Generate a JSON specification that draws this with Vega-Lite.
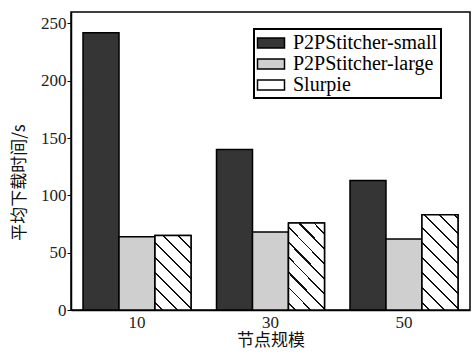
{
  "$schema": "https://vega.github.io/schema/vega-lite/v6.json",
  "width": 399,
  "height": 298,
  "autosize": "none",
  "padding": {"left": 71, "top": 12, "right": 2, "bottom": 44},
  "background": "white",
  "config": {"view": {"stroke": "#000", "strokeWidth": 1.5}, "font": "Liberation Serif, Times New Roman, DejaVu Serif, serif"},
  "data": {"values": [
    {"nodes": "10", "series": "P2PStitcher-small", "time": 242},
    {"nodes": "10", "series": "P2PStitcher-large", "time": 64},
    {"nodes": "10", "series": "Slurpie", "time": 65},
    {"nodes": "30", "series": "P2PStitcher-small", "time": 140},
    {"nodes": "30", "series": "P2PStitcher-large", "time": 68},
    {"nodes": "30", "series": "Slurpie", "time": 76},
    {"nodes": "50", "series": "P2PStitcher-small", "time": 113},
    {"nodes": "50", "series": "P2PStitcher-large", "time": 62},
    {"nodes": "50", "series": "Slurpie", "time": 83}
  ]},
  "encoding": {
    "x": {"field": "nodes", "type": "ordinal", "sort": ["10", "30", "50"],
      "scale": {"paddingInner": 0.191, "paddingOuter": 0.09},
      "axis": {"title": "节点规模", "titleFont": "Noto Sans CJK SC", "titleFontSize": 17, "titleFontWeight": "normal", "titleColor": "#111", "titlePadding": 2,
        "labelAngle": 0, "labelFont": "Liberation Serif, Times New Roman, DejaVu Serif, serif", "labelFontSize": 17, "labelColor": "#222", "labelPadding": 4,
        "ticks": false, "domainColor": "#000", "domainWidth": 1.5}},
    "xOffset": {"field": "series", "type": "nominal", "scale": {"domain": ["P2PStitcher-small", "P2PStitcher-large", "Slurpie"], "paddingInner": 0, "paddingOuter": 0}},
    "y": {"field": "time", "type": "quantitative", "scale": {"domain": [0, 260], "nice": false},
      "axis": {"title": "平均下载时间/s", "titleFont": "Noto Sans CJK SC", "titleFontSize": 17, "titleFontWeight": "normal", "titleColor": "#111",
        "titleX": -52, "titleY": 170, "titleBaseline": "middle", "titleAngle": -90,
        "values": [0, 50, 100, 150, 200, 250], "grid": false, "labelFont": "Liberation Serif, Times New Roman, DejaVu Serif, serif", "labelFontSize": 17, "labelColor": "#222", "labelPadding": 1,
        "tickSize": 4, "tickColor": "#000", "domainColor": "#000", "domainWidth": 1.5}}
  },
  "layer": [
    {
      "mark": {"type": "bar", "stroke": "#000", "strokeWidth": 1.5},
      "encoding": {
        "fill": {"field": "series", "type": "nominal",
          "scale": {"domain": ["P2PStitcher-small", "P2PStitcher-large", "Slurpie"],
            "range": ["#353535", "#cfcfcf", "#ffffff"]},
          "legend": {"orient": "none", "legendX": 183, "legendY": 17, "title": null,
            "strokeColor": "#000", "fillColor": "white", "padding": 3,
            "symbolType": "M-1.35,-0.5H1.35V0.5H-1.35Z", "symbolSize": 400, "symbolOffset": 3, "symbolStrokeColor": "#000", "symbolStrokeWidth": 1.5,
            "labelFont": "Liberation Serif, Times New Roman, DejaVu Serif, serif", "labelFontSize": 20, "labelColor": "#000", "labelOffset": 11, "rowPadding": 0,
            "encode": {
              "legend": {"update": {"strokeWidth": {"value": 2}}},
              "symbols": {"update": {
                "stroke": {"value": "#000"},
                "strokeWidth": {"value": 1.5}}}}}
        }
      }
    },
    {
      "transform": [{"filter": "datum.series === 'Slurpie' && datum.nodes === '10'"}],
      "mark": {"type": "bar", "stroke": "#000", "strokeWidth": 1.5,
        "fill": {"gradient": "linear", "x1": 0, "y1": 1, "x2": 0.581, "y2": -0.2025, "stops": [
          {"offset": 0, "color": "white"},
          {"offset": 0.0588, "color": "white"}, {"offset": 0.0588, "color": "#111"}, {"offset": 0.0769, "color": "#111"}, {"offset": 0.0769, "color": "white"},
          {"offset": 0.1946, "color": "white"}, {"offset": 0.1946, "color": "#111"}, {"offset": 0.2127, "color": "#111"}, {"offset": 0.2127, "color": "white"},
          {"offset": 0.3303, "color": "white"}, {"offset": 0.3303, "color": "#111"}, {"offset": 0.3484, "color": "#111"}, {"offset": 0.3484, "color": "white"},
          {"offset": 0.4661, "color": "white"}, {"offset": 0.4661, "color": "#111"}, {"offset": 0.4842, "color": "#111"}, {"offset": 0.4842, "color": "white"},
          {"offset": 0.6018, "color": "white"}, {"offset": 0.6018, "color": "#111"}, {"offset": 0.6199, "color": "#111"}, {"offset": 0.6199, "color": "white"},
          {"offset": 0.7376, "color": "white"}, {"offset": 0.7376, "color": "#111"}, {"offset": 0.7557, "color": "#111"}, {"offset": 0.7557, "color": "white"},
          {"offset": 0.8733, "color": "white"}, {"offset": 0.8733, "color": "#111"}, {"offset": 0.8914, "color": "#111"}, {"offset": 0.8914, "color": "white"},
          {"offset": 1, "color": "white"}
        ]}}
    },
    {
      "transform": [{"filter": "datum.series === 'Slurpie' && datum.nodes === '30'"}],
      "mark": {"type": "bar", "stroke": "#000", "strokeWidth": 1.5,
        "fill": {"gradient": "linear", "x1": 0, "y1": 1, "x2": 0.499, "y2": -0.207, "stops": [
          {"offset": 0, "color": "white"},
          {"offset": 0.0528, "color": "white"}, {"offset": 0.0528, "color": "#111"}, {"offset": 0.069, "color": "#111"}, {"offset": 0.069, "color": "white"},
          {"offset": 0.1747, "color": "white"}, {"offset": 0.1747, "color": "#111"}, {"offset": 0.1909, "color": "#111"}, {"offset": 0.1909, "color": "white"},
          {"offset": 0.2965, "color": "white"}, {"offset": 0.2965, "color": "#111"}, {"offset": 0.3128, "color": "#111"}, {"offset": 0.3128, "color": "white"},
          {"offset": 0.4184, "color": "white"}, {"offset": 0.4184, "color": "#111"}, {"offset": 0.4346, "color": "#111"}, {"offset": 0.4346, "color": "white"},
          {"offset": 0.5402, "color": "white"}, {"offset": 0.5402, "color": "#111"}, {"offset": 0.5565, "color": "#111"}, {"offset": 0.5565, "color": "white"},
          {"offset": 0.6621, "color": "white"}, {"offset": 0.6621, "color": "#111"}, {"offset": 0.6783, "color": "#111"}, {"offset": 0.6783, "color": "white"},
          {"offset": 0.7839, "color": "white"}, {"offset": 0.7839, "color": "#111"}, {"offset": 0.8002, "color": "#111"}, {"offset": 0.8002, "color": "white"},
          {"offset": 0.9058, "color": "white"}, {"offset": 0.9058, "color": "#111"}, {"offset": 0.922, "color": "#111"}, {"offset": 0.922, "color": "white"},
          {"offset": 1, "color": "white"}
        ]}}
    },
    {
      "transform": [{"filter": "datum.series === 'Slurpie' && datum.nodes === '50'"}],
      "mark": {"type": "bar", "stroke": "#000", "strokeWidth": 1.5,
        "fill": {"gradient": "linear", "x1": 0, "y1": 1, "x2": 0.4565, "y2": -0.2058, "stops": [
          {"offset": 0, "color": "white"},
          {"offset": 0.0496, "color": "white"}, {"offset": 0.0496, "color": "#111"}, {"offset": 0.0648, "color": "#111"}, {"offset": 0.0648, "color": "white"},
          {"offset": 0.164, "color": "white"}, {"offset": 0.164, "color": "#111"}, {"offset": 0.1793, "color": "#111"}, {"offset": 0.1793, "color": "white"},
          {"offset": 0.2784, "color": "white"}, {"offset": 0.2784, "color": "#111"}, {"offset": 0.2937, "color": "#111"}, {"offset": 0.2937, "color": "white"},
          {"offset": 0.3928, "color": "white"}, {"offset": 0.3928, "color": "#111"}, {"offset": 0.4081, "color": "#111"}, {"offset": 0.4081, "color": "white"},
          {"offset": 0.5072, "color": "white"}, {"offset": 0.5072, "color": "#111"}, {"offset": 0.5225, "color": "#111"}, {"offset": 0.5225, "color": "white"},
          {"offset": 0.6217, "color": "white"}, {"offset": 0.6217, "color": "#111"}, {"offset": 0.6369, "color": "#111"}, {"offset": 0.6369, "color": "white"},
          {"offset": 0.7361, "color": "white"}, {"offset": 0.7361, "color": "#111"}, {"offset": 0.7513, "color": "#111"}, {"offset": 0.7513, "color": "white"},
          {"offset": 0.8505, "color": "white"}, {"offset": 0.8505, "color": "#111"}, {"offset": 0.8658, "color": "#111"}, {"offset": 0.8658, "color": "white"},
          {"offset": 0.9649, "color": "white"}, {"offset": 0.9649, "color": "#111"}, {"offset": 0.9802, "color": "#111"}, {"offset": 0.9802, "color": "white"},
          {"offset": 1, "color": "white"}
        ]}}
    }
  ]
}
